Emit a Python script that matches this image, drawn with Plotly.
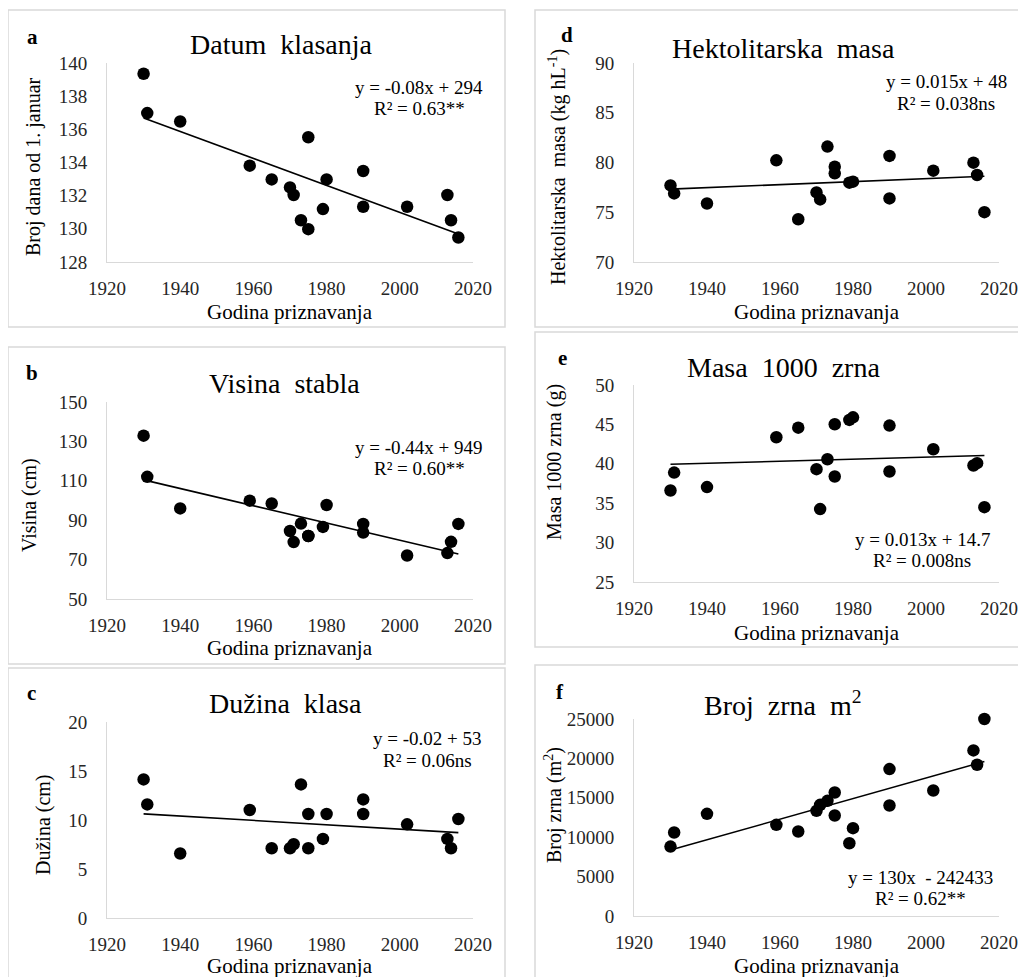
import numpy as np
import plotly.graph_objects as go

years = [1930, 1931, 1940, 1959, 1965, 1970, 1971, 1973, 1975, 1975,
         1979, 1980, 1990, 1990, 2002, 2013, 2014, 2016]

datum_klasanja = [139.35, 136.98, 136.47, 133.81, 132.98, 132.5, 132.04, 130.52, 135.52, 129.98,
                  131.19, 132.98, 133.49, 131.33, 131.33, 132.04, 130.52, 129.48]
visina_stabla = [132.9, 112.0, 96.0, 99.9, 98.5, 84.5, 78.9, 88.3, 82.0, 82.0,
                 86.6, 97.7, 88.1, 83.7, 72.1, 73.3, 79.0, 88.1]
duzina_klasa = [14.14, 11.59, 6.58, 11.02, 7.12, 7.12, 7.53, 13.63, 10.61, 7.12,
                8.07, 10.61, 12.10, 10.61, 9.56, 8.07, 7.12, 10.10]
hektolitarska_masa = [77.70, 76.89, 75.88, 80.22, 74.30, 76.99, 76.29, 81.60, 79.58, 78.91,
                      77.97, 78.07, 80.66, 76.39, 79.18, 79.98, 78.74, 75.01]
masa_1000_zrna = [36.61, 38.89, 37.04, 43.37, 44.59, 39.32, 34.25, 40.58, 45.02, 38.39,
                  45.57, 45.90, 44.85, 39.02, 41.85, 39.78, 40.08, 34.50]
broj_zrna = [8814, 10593, 12966, 11568, 10720, 13347, 14110, 14619, 15678, 12754,
             9237, 11144, 18644, 14025, 15932, 21017, 19195, 25000]

panel_letters = ["a", "b", "c", "d", "e", "f"]
panel_titles = ["Datum  klasanja", "Visina  stabla", "Dužina  klasa",
                "Hektolitarska  masa", "Masa  1000  zrna", "Broj  zrna  m<sup>2</sup>"]
y_titles = ["Broj dana od 1. januar", "Visina (cm)", "Dužina (cm)",
            "Hektolitarska  masa (kg hL<sup>-1</sup>)", "Masa 1000 zrna (g)", "Broj zrna (m<sup>2</sup>)"]
equations = ["y = -0.08x + 294", "y = -0.44x + 949", "y = -0.02 + 53",
             "y = 0.015x + 48", "y = 0.013x + 14.7", "y = 130x  - 242433"]
r2_texts = ["R² = 0.63**", "R² = 0.60**", "R² = 0.06ns",
            "R² = 0.038ns", "R² = 0.008ns", "R² = 0.62**"]
y_ranges = [[128, 140], [50, 150], [0, 20], [70, 90], [25, 50], [0, 25000]]
y_dticks = [2, 20, 5, 5, 5, 5000]
x_range = [1920, 2020]
x_dtick = 20
series = [datum_klasanja, visina_stabla, duzina_klasa,
          hektolitarska_masa, masa_1000_zrna, broj_zrna]

W, H = 1026, 977
OFF = 8  # page body margin
FONT = "Liberation Serif, Times New Roman, serif"

# layout in pixels (page coordinates)
plot_x = [(107, 473), (107, 473), (107, 473), (634, 999), (634, 999), (634, 999)]
plot_y = [(63, 262), (402, 599), (722, 918), (63, 262), (385, 582), (719, 916)]
boxes = [(8, 10, 505, 327), (8, 347, 505, 664), (8, 668, 505, 990),
         (535, 10, 1040, 327), (535, 332, 1040, 647), (535, 665, 1040, 990)]
letter_pos = [(32, 37), (32, 373), (31, 693), (567, 35), (562, 358), (560, 692)]
title_pos = [(281, 45), (284, 383), (285, 703), (783, 48), (783, 367), (783, 703)]
ytitle_pos = [(33, 167), (30, 505), (43, 825), (557, 167), (555, 462), (553, 805)]
eq_pos = [(419, 87, 108), (419, 447, 468), (427, 738, 760),
          (946, 82, 103), (922, 539, 560), (920, 877, 898)]
xtitle_y = [312, 648, 966, 312, 633, 966]


def px(x):
    return (x - OFF) / W


def py(y):
    return 1 - (y - OFF) / H


fig = go.Figure()
annotations = []
shapes = []
axis_line = "#d9d9d9"
tick_color = "#262626"

for i in range(6):
    n = i + 1
    xa = "x" if n == 1 else f"x{n}"
    ya = "y" if n == 1 else f"y{n}"
    xs = np.array(years, dtype=float)
    ys = np.array(series[i], dtype=float)
    fig.add_trace(go.Scatter(x=xs, y=ys, mode="markers", xaxis=xa, yaxis=ya,
                             marker=dict(color="black", size=12.5),
                             cliponaxis=False, showlegend=False))
    slope, inter = np.polyfit(xs, ys, 1)
    lx = np.array([xs.min(), xs.max()])
    fig.add_trace(go.Scatter(x=lx, y=slope * lx + inter, mode="lines", xaxis=xa, yaxis=ya,
                             line=dict(color="black", width=1.6),
                             cliponaxis=False, showlegend=False))
    x0, x1 = plot_x[i]
    yt, yb = plot_y[i]
    xkey = "xaxis" if n == 1 else f"xaxis{n}"
    ykey = "yaxis" if n == 1 else f"yaxis{n}"
    fig.update_layout(**{
        xkey: dict(domain=[px(x0), px(x1)], range=x_range, dtick=x_dtick, tick0=1920,
                   tickmode="linear", automargin=False,
                   anchor=ya, showgrid=False, zeroline=False, showline=True,
                   linecolor=axis_line, linewidth=1, ticks="",
                   ticklabelstandoff=9,
                   tickfont=dict(family=FONT, size=19, color=tick_color)),
        ykey: dict(domain=[py(yb), py(yt)], range=y_ranges[i], dtick=y_dticks[i],
                   tick0=y_ranges[i][0], tickmode="linear", tickformat="d",
                   automargin=False,
                   anchor=xa, showgrid=False, zeroline=False, showline=True,
                   linecolor=axis_line, linewidth=1, ticks="",
                   ticklabelstandoff=15,
                   tickfont=dict(family=FONT, size=19, color=tick_color)),
    })
    bx0, by0, bx1, by1 = boxes[i]
    shapes.append(dict(type="rect", xref="paper", yref="paper",
                       x0=px(bx0), x1=px(bx1), y0=py(by1), y1=py(by0),
                       line=dict(color="#d9d9d9", width=1.5)))
    lx_, ly_ = letter_pos[i]
    annotations.append(dict(text=f"<b>{panel_letters[i]}</b>", x=px(lx_), y=py(ly_),
                            xref="paper", yref="paper", showarrow=False,
                            xanchor="center", yanchor="middle",
                            font=dict(family=FONT, size=21, color="black")))
    tx, ty = title_pos[i]
    annotations.append(dict(text=panel_titles[i], x=px(tx), y=py(ty),
                            xref="paper", yref="paper", showarrow=False,
                            xanchor="center", yanchor="middle",
                            font=dict(family=FONT, size=28, color="black")))
    yx, yy = ytitle_pos[i]
    annotations.append(dict(text=y_titles[i], x=px(yx), y=py(yy), textangle=-90,
                            xref="paper", yref="paper", showarrow=False,
                            xanchor="center", yanchor="middle",
                            font=dict(family=FONT, size=20, color="black")))
    annotations.append(dict(text="Godina priznavanja", x=px((x0 + x1) / 2), y=py(xtitle_y[i]),
                            xref="paper", yref="paper", showarrow=False,
                            xanchor="center", yanchor="middle",
                            font=dict(family=FONT, size=21, color="black")))
    ex, ey1, ey2 = eq_pos[i]
    annotations.append(dict(text=equations[i], x=px(ex), y=py(ey1),
                            xref="paper", yref="paper", showarrow=False,
                            xanchor="center", yanchor="middle",
                            font=dict(family=FONT, size=19, color="black")))
    annotations.append(dict(text=r2_texts[i], x=px(ex), y=py(ey2),
                            xref="paper", yref="paper", showarrow=False,
                            xanchor="center", yanchor="middle",
                            font=dict(family=FONT, size=19, color="black")))

fig.update_layout(template="none", width=W, height=H,
                  margin=dict(l=0, r=0, t=0, b=0, pad=0, autoexpand=False),
                  paper_bgcolor="white", plot_bgcolor="white",
                  annotations=annotations, shapes=shapes, showlegend=False)

fig.write_html("out.html")
